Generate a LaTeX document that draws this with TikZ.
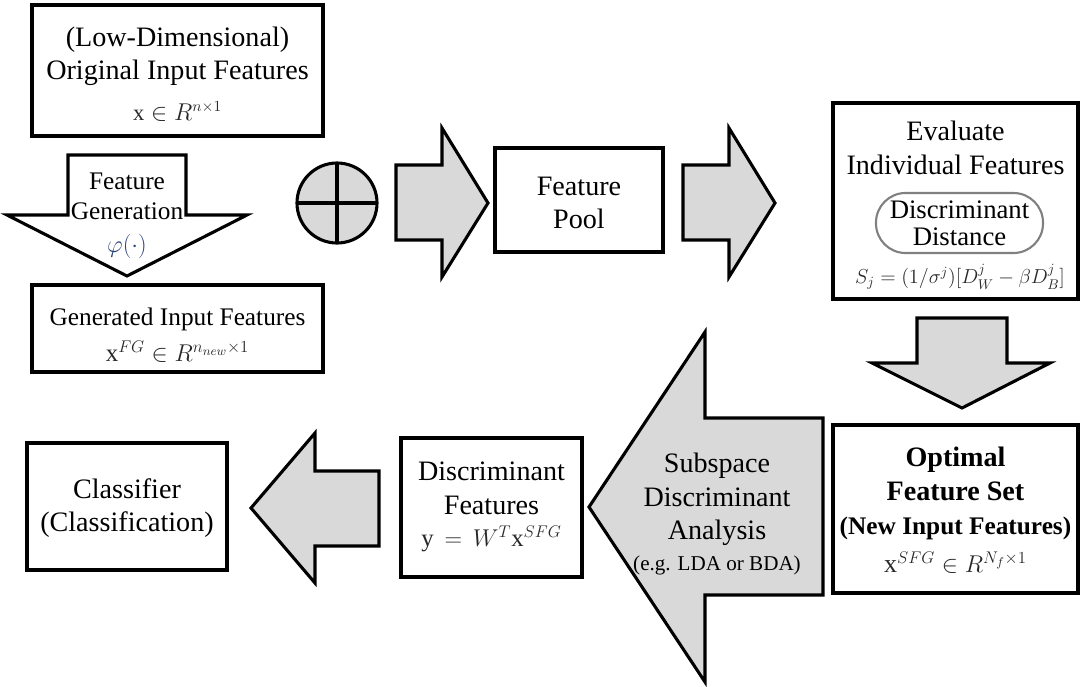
\documentclass[tikz,border=0pt]{standalone}
\usepackage{amsmath}
\usepackage{fontspec}
\setmainfont{Liberation Serif}
\usetikzlibrary{fit}
\definecolor{arrowgray}{RGB}{217,217,217}
\definecolor{phiblue}{RGB}{45,65,125}
\definecolor{eqgray}{RGB}{40,40,40}
\newcommand{\eqtext}[2][16]{{\normalfont\fontsize{#1}{#1}\selectfont\color{eqgray}$#2$}}
\tikzset{
    box/.style={draw, line width=2.2pt, inner sep=0pt, outer sep=0pt},
    blockarrow/.style={draw, line width=2.2pt, line join=miter, fill=arrowgray},
    label text/.style={align=center, inner sep=0pt, font=\fontsize{20}{24}\selectfont},
}

\begin{document}
\begin{tikzpicture}[x=0.025cm, y=-0.025cm]
\useasboundingbox (0,0) rectangle (1080,686);

% input side
\node[box, fit={(32,5) (323,136)}] (orig) {};
\node[label text] (origtext) at (177.5,74) {(Low-Dimensional)\\Original Input Features\\[5pt]\eqtext[16]{\text{x}\in R^{n\times 1}}};
\draw[blockarrow, fill=white] (68,155) -- (186,155) -- (186,215) -- (247,215) -- (127,276) -- (7,215) -- (68,215) -- cycle;
\node[label text, font=\fontsize{18}{21}\selectfont] (gentext) at (127,216) {Feature\\Generation\\[3pt]{\fontsize{16}{19}\selectfont\color{phiblue}$\varphi(\cdot)$}};
\node[box, fit={(32,285) (323,372)}] (gen) {};
\node[label text, font=\fontsize{18}{22}\selectfont] (gentitle) at (177.5,335) {Generated Input Features\\[4pt]\eqtext[17.7]{\text{x}^{FG}\in R^{n_{new}\times 1}}};

\node[draw, circle, fill=arrowgray, line width=2.2pt, outer sep=0pt, minimum size=2cm] (plus) at (337,203) {};
\draw[line width=2.2pt] (plus.north) -- (plus.south) (plus.west) -- (plus.east);

% top row
\draw[blockarrow] (396,165) -- (442,165) -- (442,128) -- (488,203) -- (442,277) -- (442,240) -- (396,240) -- cycle;
\node[box, fit={(495,148) (663,252)}] (pool) {};
\node[label text] (pooltext) at (579,203) {Feature\\Pool};
\draw[blockarrow] (683,165) -- (729,165) -- (729,128) -- (775,203) -- (729,277) -- (729,240) -- (683,240) -- cycle;

\node[box, fit={(833,103) (1078,299)}] (eval) {};
\node[label text] (evaltitle) at (955.5,148) {Evaluate\\Individual Features};
\node[draw=gray, line width=1.5pt, rounded corners=0.74cm, inner sep=0pt, align=center,
      minimum width=4.175cm, minimum height=1.5cm,
      font=\fontsize{19}{19.5}\selectfont] (dist) at (959.5,223) {Discriminant\\Distance};
\node[inner sep=0pt] (score) at (960,277) {\eqtext[14.5]{S_j=(1/\sigma^j)[D_W^j-\beta D_B^j]}};

\draw[blockarrow] (917,318) -- (1007,318) -- (1007,363) -- (1050,363) -- (962,408) -- (872,363) -- (917,363) -- cycle;

% bottom row
\node[box, fit={(833,425) (1078,593)}] (opt) {};
\node[label text, font=\fontsize{20}{24}\selectfont\bfseries] (opttext) at (955.5,510) {Optimal\\Feature Set\\{\fontsize{18}{24}\selectfont(New Input Features)}\\[3pt]\eqtext[18.5]{\text{x}^{SFG}\in R^{N_f\times 1}}};

\draw[blockarrow] (823,418) -- (705,418) -- (705,332) -- (589,507) -- (705,682) -- (705,595) -- (823,595) -- cycle;
\node[label text] (sda) at (717,514) {Subspace\\Discriminant\\Analysis\\[-2pt]{\fontsize{15}{18}\selectfont(e.g. LDA or BDA)}};

\node[box, fit={(401,438) (582,577)}] (disc) {};
\node[label text] (disctext) at (491.5,507) {Discriminant\\Features\\[-1pt]\eqtext[17.6]{\text{y}\,=\,W^T\text{x}^{SFG}}};

\draw[blockarrow] (379,471) -- (315,471) -- (315,433) -- (251,508) -- (315,583) -- (315,546) -- (379,546) -- cycle;
\node[box, fit={(27,443) (227,570)}] (clf) {};
\node[label text] (clftext) at (127,508) {Classifier\\(Classification)};
\end{tikzpicture}
\end{document}
